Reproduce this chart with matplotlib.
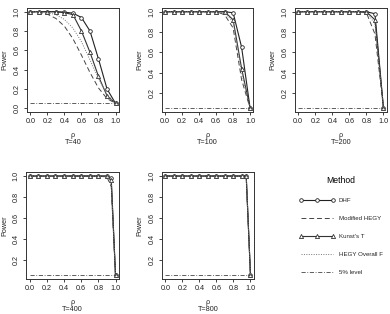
import matplotlib
matplotlib.use("Agg")
import matplotlib.pyplot as plt

plt.rcParams['font.family'] = ['Liberation Sans', 'DejaVu Sans']

rho = [0.0, 0.1, 0.2, 0.3, 0.4, 0.5, 0.6, 0.7, 0.8, 0.9, 1.0]
rho_fine = [0.0, 0.1, 0.2, 0.3, 0.4, 0.5, 0.6, 0.7, 0.8, 0.9, 0.95, 1.0]

# T=40
dhf_40 = [1, 1, 1, 1, 0.995, 0.985, 0.94, 0.80, 0.51, 0.20, 0.05]
kun_40 = [1, 1, 1, 1, 0.99, 0.97, 0.80, 0.58, 0.33, 0.13, 0.05]
mh_40 = [1, 0.995, 0.975, 0.93, 0.85, 0.72, 0.55, 0.37, 0.21, 0.10, 0.05]
hf_40 = [1, 1, 0.99, 0.97, 0.92, 0.83, 0.69, 0.50, 0.31, 0.14, 0.05]

# T=100
dhf_100 = [1, 1, 1, 1, 1, 1, 1, 1, 0.99, 0.65, 0.05]
kun_100 = [1, 1, 1, 1, 1, 1, 1, 1, 0.92, 0.44, 0.05]
mh_100 = [1, 1, 1, 1, 1, 1, 1, 0.97, 0.84, 0.33, 0.05]
hf_100 = [1, 1, 1, 1, 1, 1, 1, 0.99, 0.90, 0.40, 0.05]

# T=200
dhf_200 = [1, 1, 1, 1, 1, 1, 1, 1, 1, 0.98, 0.05]
kun_200 = [1, 1, 1, 1, 1, 1, 1, 1, 1, 0.92, 0.05]
mh_200 = [1, 1, 1, 1, 1, 1, 1, 1, 0.99, 0.78, 0.05]
hf_200 = [1, 1, 1, 1, 1, 1, 1, 1, 1, 0.88, 0.05]

# T=400
dhf_400 = [1, 1, 1, 1, 1, 1, 1, 1, 1, 1, 0.98, 0.05]
kun_400 = [1, 1, 1, 1, 1, 1, 1, 1, 1, 1, 0.96, 0.05]
mh_400 = [1, 1, 1, 1, 1, 1, 1, 1, 1, 0.99, 0.90, 0.05]
hf_400 = [1, 1, 1, 1, 1, 1, 1, 1, 1, 1, 0.94, 0.05]

# T=800
dhf_800 = [1, 1, 1, 1, 1, 1, 1, 1, 1, 1, 1, 0.05]
kun_800 = [1, 1, 1, 1, 1, 1, 1, 1, 1, 1, 1, 0.05]
mh_800 = [1, 1, 1, 1, 1, 1, 1, 1, 1, 1, 0.99, 0.05]
hf_800 = [1, 1, 1, 1, 1, 1, 1, 1, 1, 1, 0.995, 0.05]

level = 0.05

panels = [
    ("T=40", rho, dhf_40, mh_40, kun_40, hf_40),
    ("T=100", rho, dhf_100, mh_100, kun_100, hf_100),
    ("T=200", rho, dhf_200, mh_200, kun_200, hf_200),
    ("T=400", rho_fine, dhf_400, mh_400, kun_400, hf_400),
    ("T=800", rho_fine, dhf_800, mh_800, kun_800, hf_800),
]

# axes boxes in figure fractions [left, bottom, width, height]
boxes = [
    [0.069, 0.643, 0.236, 0.332],
    [0.415, 0.643, 0.235, 0.332],
    [0.756, 0.643, 0.236, 0.332],
    [0.067, 0.111, 0.238, 0.341],
    [0.415, 0.111, 0.236, 0.341],
]

fs = 5.2
fig = plt.figure(figsize=(3.9, 3.14), dpi=100)

handles = None
for i, (label, x, dhf, mh, kun, hf) in enumerate(panels):
    ax = fig.add_axes(boxes[i])
    h1, = ax.plot(x, dhf, color='#222222', lw=0.8, marker='o', ms=2.6,
                  mfc='white', mec='#222222', mew=0.6, label='DHF')
    h2, = ax.plot(x, mh, color='#444444', lw=0.7, ls=(0, (5, 3)),
                  label='Modified HEGY')
    h3, = ax.plot(x, kun, color='#333333', lw=0.8, marker='^', ms=3.0,
                  mfc='white', mec='#333333', mew=0.6, label="Kunst's T")
    h4, = ax.plot(x, hf, color='#777777', lw=0.7, ls=(0, (1, 1.5)),
                  label='HEGY Overall F')
    h5, = ax.plot(x, [level] * len(x), color='#444444', lw=0.6,
                  ls=(0, (5, 2, 1, 2)), label='5% level')
    if handles is None:
        handles = [h1, h2, h3, h4, h5]

    ax.set_xlim(-0.04, 1.04)
    ax.set_xticks([0.0, 0.2, 0.4, 0.6, 0.8, 1.0])
    ax.set_xticklabels(['0.0', '0.2', '0.4', '0.6', '0.8', '1.0'])
    if i == 0:
        ax.set_ylim(-0.04, 1.04)
        ax.set_yticks([0.0, 0.2, 0.4, 0.6, 0.8, 1.0])
        ax.set_yticklabels(['0.0', '0.2', '0.4', '0.6', '0.8', '1.0'])
    else:
        ax.set_ylim(0.05 - 0.038, 1.0 + 0.038)
        ax.set_yticks([0.2, 0.4, 0.6, 0.8, 1.0])
        ax.set_yticklabels(['0.2', '0.4', '0.6', '0.8', '1.0'])
    ax.tick_params(direction='out', length=2.5, width=0.6, pad=2,
                   labelsize=fs, colors='#222222')
    for lab in ax.get_yticklabels():
        lab.set_rotation(90)
        lab.set_va('center')
    for sp in ax.spines.values():
        sp.set_linewidth(0.7)
        sp.set_color('#333333')
    ax.set_xlabel('\u03c1\n' + label, fontsize=fs, labelpad=5,
                  linespacing=0.9, color='#222222')
    ax.set_ylabel('Power', fontsize=fs, labelpad=3.5, color='#222222')

leg = fig.legend(handles=handles, loc='upper left',
                 bbox_to_anchor=(0.758, 0.45), frameon=False,
                 title='Method', title_fontsize=6.2, fontsize=4.4,
                 numpoints=3, handlelength=5.9, handletextpad=0.65,
                 labelspacing=2.1, borderpad=0)
for t in leg.get_texts():
    t.set_color('#222222')

fig.savefig("out.png", dpi=100)
